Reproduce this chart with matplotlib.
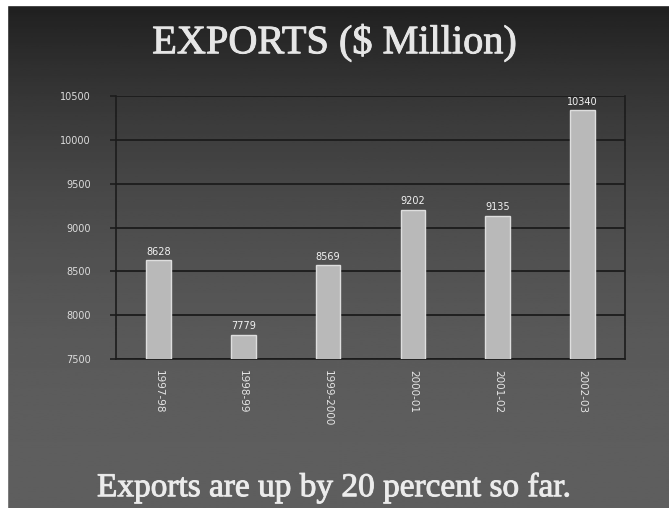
import numpy as np
import matplotlib
matplotlib.use('Agg')
import matplotlib.pyplot as plt
import matplotlib.patheffects as pe
from matplotlib.patches import Rectangle

# export figures, $ million
years = ['1997-98', '1998-99', '1999-2000', '2000-01', '2001-02', '2002-03']
exports = [8628, 7779, 8569, 9202, 9135, 10340]
yticks = [7500, 8000, 8500, 9000, 9500, 10000, 10500]

fig = plt.figure(figsize=(6.69, 5.08), dpi=100)

# slide background: dark at the top, lighter grey lower down
bg = fig.add_axes([0, 0, 1, 1], zorder=0)
grad = np.linspace(0, 1, 256)
shade = 0.12 + 0.25 * (1 - (1 - grad) ** 2.2)
bg.imshow(shade[:, None], aspect='auto', cmap='gray', vmin=0, vmax=1,
          extent=[0, 1, 0, 1], origin='upper')
bg.set_xlim(0, 1)
bg.set_ylim(0, 1)
bg.axis('off')

# white margins left and top
fig.patches.append(Rectangle((0, 0), 7 / 669, 1, transform=fig.transFigure,
                             color='white', zorder=1))
fig.patches.append(Rectangle((0, 1 - 5 / 508), 1, 5 / 508, transform=fig.transFigure,
                             color='white', zorder=1))

# slightly heavier serif headings
thick = [pe.withStroke(linewidth=0.7, foreground='#e6e6e6')]
fig.text(0.5, 0.915, 'EXPORTS ($ Million)', ha='center', va='center',
         fontsize=29, family='Liberation Serif', color='#e6e6e6', path_effects=thick)
fig.text(0.5, 0.04, 'Exports are up by 20 percent so far.', ha='center', va='center',
         fontsize=24, family='Liberation Serif', color='#ececec', path_effects=thick)

ax = fig.add_axes([116 / 669, 1 - 359 / 508, 509 / 669, 263 / 508], zorder=2)
ax.patch.set_alpha(0)
x = np.arange(len(years))
bars = ax.bar(x, exports, width=0.29, color='#b9b9b9', edgecolor='#dedede',
              linewidth=1, zorder=3)
for xi, v in zip(x, exports):
    ax.text(xi, v + 40, str(v), ha='center', va='bottom', fontsize=7,
            color='#f2f2f2', zorder=4)

ax.set_xlim(-0.5, len(years) - 0.5)
ax.set_ylim(7500, 10500)
ax.set_yticks(yticks)
ax.set_yticklabels([str(t) for t in yticks], fontsize=7, color='#dcdcdc')
ax.set_xticks(x)
ax.set_xticklabels(years, rotation=-90, fontsize=7.5, color='#e4e4e4')
ax.tick_params(axis='y', length=4, color='#1c1c1c', width=1.2, pad=14)
ax.tick_params(axis='x', length=0, pad=8)
ax.yaxis.grid(True, color='#1c1c1c', linewidth=1.3, zorder=1)
ax.set_axisbelow(True)
for side in ['left', 'right', 'bottom']:
    ax.spines[side].set_color('#1c1c1c')
    ax.spines[side].set_linewidth(1.2)
ax.spines['top'].set_visible(False)

fig.savefig('out.png', dpi=100)
